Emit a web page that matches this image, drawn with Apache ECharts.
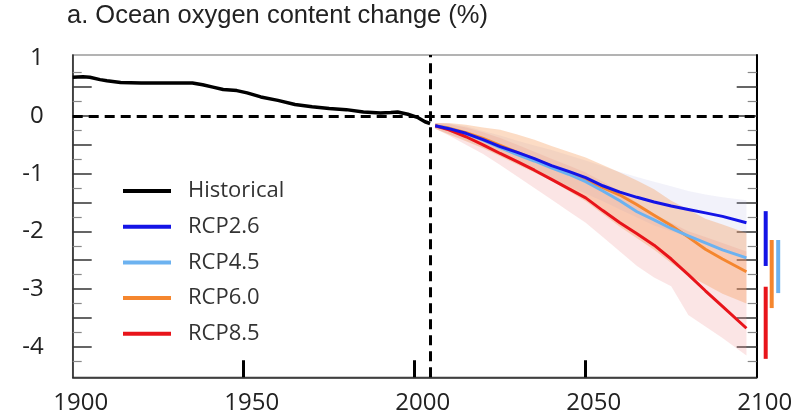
<!DOCTYPE html>
<html>
<head>
<meta charset="utf-8">
<script src="https://cdn.jsdelivr.net/npm/echarts@6/dist/echarts.min.js"></script>
<style>
  html, body { margin: 0; padding: 0; background: #fff; }
  #chart { width: 806px; height: 418px; }
</style>
</head>
<body>
<div id="chart"></div>
<script>
// Historical ocean oxygen content change (%), relative to the reference period
const histYears  = [1900, 1903, 1905, 1908, 1910, 1914, 1920, 1926, 1932, 1935, 1938, 1941, 1944, 1948, 1951, 1955, 1960, 1965, 1970, 1975, 1980, 1985, 1990, 1993, 1995, 1998, 2001, 2003, 2004.5];
const histValues = [0.67, 0.68, 0.67, 0.63, 0.61, 0.58, 0.57, 0.57, 0.57, 0.57, 0.54, 0.50, 0.46, 0.44, 0.40, 0.33, 0.27, 0.20, 0.16, 0.13, 0.11, 0.07, 0.05, 0.06, 0.07, 0.03, -0.03, -0.10, -0.13];

// Scenario projections (multi-model mean)
const rcpYears = [2006, 2010, 2015, 2020, 2025, 2030, 2035, 2040, 2045, 2050, 2055, 2060, 2065, 2070, 2075, 2080, 2085, 2090, 2097];
const rcp26 = [-0.17, -0.22, -0.30, -0.41, -0.53, -0.63, -0.74, -0.86, -0.96, -1.07, -1.21, -1.32, -1.41, -1.49, -1.56, -1.62, -1.68, -1.74, -1.85];
const rcp45 = [-0.17, -0.22, -0.31, -0.42, -0.55, -0.67, -0.78, -0.90, -1.01, -1.14, -1.30, -1.47, -1.66, -1.80, -1.95, -2.08, -2.20, -2.32, -2.46];
const rcp60 = [-0.17, -0.21, -0.29, -0.39, -0.51, -0.63, -0.75, -0.87, -0.99, -1.11, -1.24, -1.37, -1.54, -1.72, -1.90, -2.10, -2.31, -2.48, -2.70];
const rcp85 = [-0.17, -0.24, -0.36, -0.50, -0.65, -0.79, -0.94, -1.10, -1.26, -1.42, -1.64, -1.85, -2.04, -2.24, -2.48, -2.75, -3.03, -3.30, -3.68];

// Model spread envelopes
const spreadYears = [2006, 2010, 2015, 2020, 2025, 2030, 2035, 2040, 2045, 2050, 2055, 2060, 2065, 2070, 2075, 2080, 2085, 2090, 2097];
const spread26Upper = [-0.12, -0.13, -0.18, -0.26, -0.34, -0.43, -0.51, -0.59, -0.68, -0.77, -0.87, -0.97, -1.06, -1.14, -1.22, -1.30, -1.36, -1.41, -1.46];
const spread26Lower = [-0.22, -0.31, -0.42, -0.55, -0.67, -0.80, -0.95, -1.10, -1.22, -1.35, -1.48, -1.62, -1.76, -1.90, -2.00, -2.10, -2.20, -2.30, -2.45];
const spread60Upper = [-0.12, -0.12, -0.15, -0.20, -0.24, -0.32, -0.41, -0.52, -0.62, -0.72, -0.85, -0.98, -1.12, -1.27, -1.47, -1.62, -1.78, -1.88, -2.03];
const spread60Lower = [-0.22, -0.32, -0.44, -0.56, -0.70, -0.84, -0.98, -1.12, -1.30, -1.48, -1.70, -1.92, -2.12, -2.32, -2.55, -2.76, -2.92, -3.08, -3.25];
const spread85Upper = [-0.12, -0.14, -0.20, -0.28, -0.38, -0.50, -0.62, -0.74, -0.86, -0.98, -1.14, -1.30, -1.50, -1.70, -1.85, -2.00, -2.10, -2.20, -2.35];
const spread85Lower = [-0.22, -0.34, -0.50, -0.66, -0.85, -1.05, -1.25, -1.45, -1.65, -1.85, -2.10, -2.35, -2.60, -2.80, -2.95, -3.45, -3.65, -3.85, -4.15];

// Likely ranges for 2090-2099
const rangeNames = ['RCP2.6', 'RCP6.0', 'RCP4.5', 'RCP8.5'];
const rangeLow   = [-2.60, -3.33, -3.07, -4.21];
const rangeHigh  = [-1.65, -2.15, -2.15, -2.96];

// Axis ticks and labels
const xLabels = [1900, 1950, 2000, 2050, 2100];
const xTickValues = [1950, 2000, 2050];
const yLabels = [1, 0, -1, -2, -3, -4];
const yMajorTicks = [0.5, 0, -0.5, -1, -1.5, -2, -2.5, -3, -3.5, -4];
const yMinorTicks = [0.75, 0.25, -0.25, -0.75, -1.25, -1.75, -2.25, -2.75, -3.25, -3.75, -4.25];

const Y_MIN = -4.53, Y_MAX = 1.057;
const X_MIN = 1900, X_MAX = 2100;
const refYear = 2004.5;

const colors = {
  Historical: '#000000',
  'RCP2.6': '#1414e6',
  'RCP4.5': '#6cb2f0',
  'RCP6.0': '#f5862e',
  'RCP8.5': '#e8141a'
};

function pairs(xs, ys) { return xs.map((x, i) => [x, ys[i]]); }

function lineSeries(name, xs, ys, width, z) {
  return {
    type: 'line', name, data: pairs(xs, ys), color: colors[name],
    showSymbol: false, symbol: 'none', smooth: false, z,
    lineStyle: { color: colors[name], width }
  };
}

function spreadSeries(name, years, upper, lower, fill) {
  return {
    type: 'custom', name, silent: true, z: 1,
    data: [[years[0], upper[0]]],
    encode: { x: 0, y: 1 },
    renderItem(params, api) {
      const pts = [];
      for (let i = 0; i < years.length; i++) pts.push(api.coord([years[i], upper[i]]));
      for (let i = years.length - 1; i >= 0; i--) pts.push(api.coord([years[i], lower[i]]));
      return { type: 'polygon', shape: { points: pts }, style: { fill } };
    }
  };
}

const rangeStyle = {
  'RCP2.6': { dx: 9, color: colors['RCP2.6'] },
  'RCP6.0': { dx: 15, color: colors['RCP6.0'] },
  'RCP4.5': { dx: 21.5, color: colors['RCP4.5'] },
  'RCP8.5': { dx: 9, color: colors['RCP8.5'] }
};

const yCommon = {
  type: 'value', min: Y_MIN, max: Y_MAX,
  splitLine: { show: false },
  axisLabel: { show: false },
  axisLine: { show: false }
};

const chart = echarts.init(document.getElementById('chart'), null, { renderer: 'canvas' });

chart.setOption({
  animation: false,
  backgroundColor: '#ffffff',
  title: {
    text: 'a. Ocean oxygen content change (%)',
    left: 67, top: 3, padding: 0,
    textStyle: { fontFamily: 'Liberation Sans', fontSize: 25.5, fontWeight: 'normal', color: '#222' }
  },
  grid: {
    left: 72.7, right: 49.3, top: 55, bottom: 40.7,
    show: true, borderColor: '#9a9a9a', borderWidth: 1.5, backgroundColor: 'transparent'
  },
  legend: {
    orient: 'vertical', left: 118, top: 175,
    data: ['Historical', 'RCP2.6', 'RCP4.5', 'RCP6.0', 'RCP8.5'],
    icon: 'rect', itemWidth: 48, itemHeight: 4, itemGap: 13.7,
    selectedMode: false,
    textStyle: { fontFamily: 'Open Sans', fontSize: 22, color: '#333', lineHeight: 22, padding: [0, 0, 0, 12] }
  },
  xAxis: {
    type: 'value', min: X_MIN, max: X_MAX, interval: 50,
    splitLine: { show: false },
    axisLine: { show: true, onZero: false, lineStyle: { color: '#222', width: 1.5 } },
    axisTick: { show: true, inside: true, length: 17, customValues: xTickValues, lineStyle: { color: '#000', width: 3 } },
    axisLabel: {
      customValues: xLabels, margin: 14, padding: [0, 0, 0, 16],
      formatter: (v) => String(v),
      fontFamily: 'Open Sans', fontSize: 24, color: '#222'
    }
  },
  yAxis: [
    Object.assign({}, yCommon, {
      position: 'left',
      axisLine: { show: true, onZero: false, lineStyle: { color: '#222', width: 1.5 } },
      axisTick: { show: true, inside: true, length: 19, customValues: yMajorTicks, lineStyle: { color: '#333', width: 1.5 } },
      axisLabel: { show: true, customValues: yLabels, margin: 29, fontFamily: 'Open Sans', fontSize: 24, color: '#222' }
    }),
    Object.assign({}, yCommon, {
      position: 'left',
      axisTick: { show: true, inside: true, length: 9, customValues: yMinorTicks, lineStyle: { color: '#888', width: 1.2 } }
    }),
    Object.assign({}, yCommon, {
      position: 'right',
      axisLine: { show: true, onZero: false, lineStyle: { color: '#000', width: 2 } },
      axisTick: { show: true, inside: true, length: 20, customValues: yMajorTicks, lineStyle: { color: '#333', width: 1.5 } }
    }),
    Object.assign({}, yCommon, {
      position: 'right',
      axisTick: { show: true, inside: true, length: 9, customValues: yMinorTicks, lineStyle: { color: '#888', width: 1.2 } }
    })
  ],
  series: [
    spreadSeries('RCP8.5 spread', spreadYears, spread85Upper, spread85Lower, 'rgba(240,150,150,0.25)'),
    spreadSeries('RCP2.6 spread', spreadYears, spread26Upper, spread26Lower, 'rgba(185,185,230,0.18)'),
    spreadSeries('RCP6.0 spread', spreadYears, spread60Upper, spread60Lower, 'rgba(245,150,80,0.33)'),
    Object.assign(lineSeries('Historical', histYears, histValues, 3.5, 5), {
      markLine: {
        silent: true, symbol: 'none', label: { show: false },
        lineStyle: { color: '#000', width: 3, type: [10, 6] },
        data: [{ yAxis: 0 }, { xAxis: refYear }]
      }
    }),
    lineSeries('RCP6.0', rcpYears, rcp60, 3, 6),
    lineSeries('RCP4.5', rcpYears, rcp45, 3, 7),
    lineSeries('RCP8.5', rcpYears, rcp85, 3, 8),
    lineSeries('RCP2.6', rcpYears, rcp26, 3, 9),
    {
      type: 'custom', name: 'likely range', silent: true, clip: false, z: 10,
      data: rangeNames.map((n, i) => [X_MAX, rangeLow[i], rangeHigh[i]]),
      encode: { x: 0, y: [1, 2] },
      renderItem(params, api) {
        const i = params.dataIndex;
        const s = rangeStyle[rangeNames[i]];
        const a = api.coord([X_MAX, rangeLow[i]]);
        const b = api.coord([X_MAX, rangeHigh[i]]);
        return {
          type: 'line',
          shape: { x1: a[0] + s.dx, y1: a[1], x2: a[0] + s.dx, y2: b[1] },
          style: { stroke: s.color, lineWidth: 4 }
        };
      }
    }
  ]
});
</script>
</body>
</html>
